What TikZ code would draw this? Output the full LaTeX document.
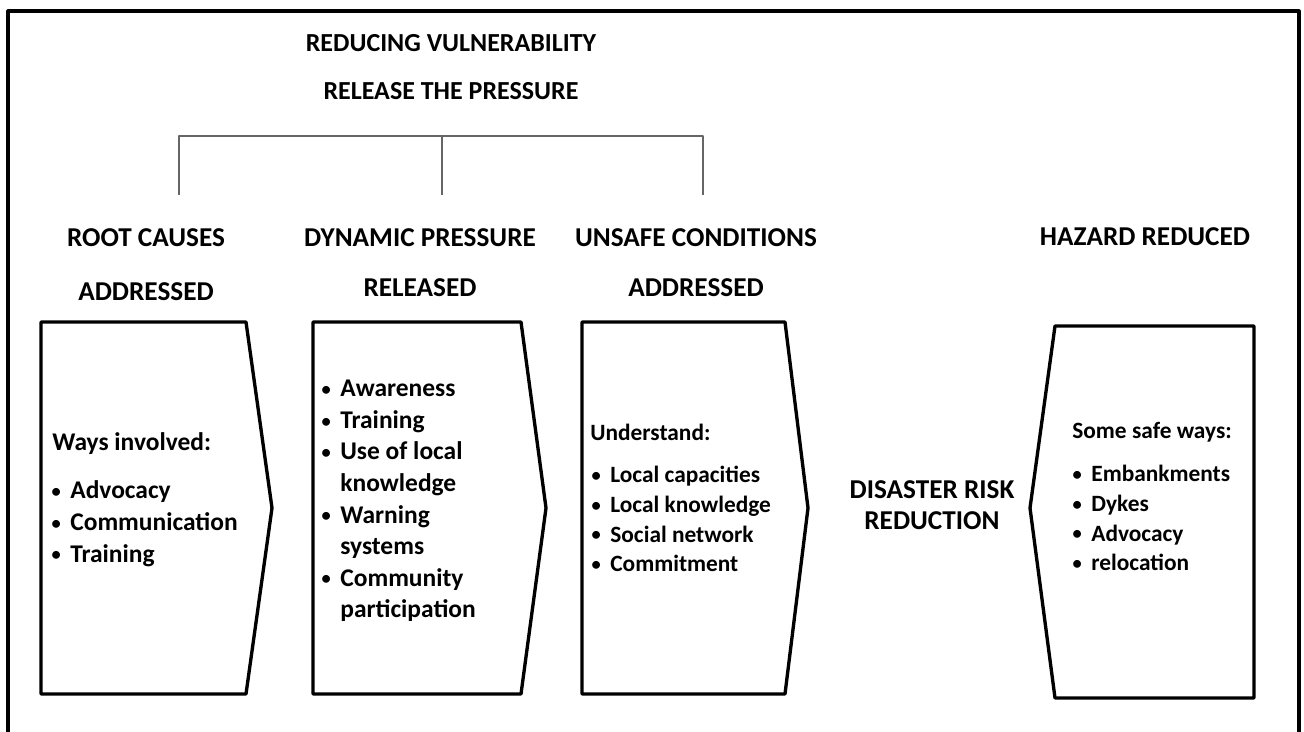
\documentclass[tikz,border=0pt]{standalone}
\usepackage{fontspec}
\setmainfont{Carlito}
\usetikzlibrary{positioning}

\tikzset{
  frameline/.style={line width=1.8pt},
  panel/.style={line width=1.9pt, line join=round},
  bracket/.style={line width=0.9pt, draw=black!60},
  toptitle/.style={anchor=base, inner sep=0pt, font=\fontsize{14.8}{16}\selectfont\bfseries},
  heading/.style={anchor=base, inner sep=0pt, font=\fontsize{15.5}{18}\selectfont\bfseries},
  item/.style={anchor=base west, inner sep=0pt, font=\fontsize{14.5}{17}\selectfont\bfseries},
  smallitem/.style={anchor=base west, inner sep=0pt, font=\fontsize{13.3}{16}\selectfont\bfseries},
}
\newcommand{\bul}{\llap{\raisebox{0.8pt}{\fontsize{10.5}{11}\selectfont\textbullet}\hspace{5.5pt}}}

\begin{document}
\begin{tikzpicture}[x=0.02cm, y=-0.02cm, line join=round]
    \useasboundingbox (0,0) rectangle (1304,732);
    % frame, open at the bottom
    \draw[frameline] (8,732) -- (8,11) -- (1299,11) -- (1299,732);

    \node[toptitle] (vuln) at (451,52) {REDUCING VULNERABILITY};
    \node[toptitle] (press) at (451,100) {RELEASE THE PRESSURE};

    % bracket over the three columns
    \coordinate (brL) at (179,136);
    \coordinate (brM) at (442,136);
    \coordinate (brR) at (703,136);
    \coordinate (brLd) at (179,195);
    \coordinate (brMd) at (442,195);
    \coordinate (brRd) at (703,195);
    \draw[bracket] (brLd) -- (brL) -- (brR) -- (brRd) (brM) -- (brMd);

    \foreach \n/\x/\a/\b/\y in {root/146/ROOT CAUSES/ADDRESSED/301,
                              dyn/420/DYNAMIC PRESSURE/RELEASED/297,
                              unsafe/696/UNSAFE CONDITIONS/ADDRESSED/297} {
      \node[heading] (\n-a) at (\x,247) {\a};
      \node[heading] (\n-b) at (\x,\y) {\b};
    }
    \node[heading] (hazard) at (1145,246) {HAZARD REDUCED};
    \node[heading] (drr-a) at (932,499) {DISASTER RISK};
    \node[heading] (drr-b) at (932,530) {REDUCTION};

    % arrow-shaped panels
    \foreach \n/\l/\r/\t in {root/41/246/272, dyn/313/521/546, unsafe/582/785/808} {
      \draw[panel] (\l,322) -- (\r,322) -- (\t,508) -- (\r,694) -- (\l,694) -- cycle;
    }
    \draw[panel] (1055,326) -- (1254,326) -- (1254,698) -- (1055,698) -- (1030,508) -- cycle;

    % panel contents
    \node[item] (ways) at (52,451) {Ways involved:};
    \foreach \t [count=\i] in {Advocacy, Communication, Training} {
      \node[item] (root\i) at (70,{499+31.5*(\i-1)}) {\bul\t};
    }
    \foreach \b/\t [count=\i] in {1/Awareness, 1/Training, 1/Use of local, 0/knowledge,
                                  1/Warning, 0/systems, 1/Community, 0/participation} {
      \node[item] (dyn\i) at (340,{397+31.5*(\i-1)}) {\ifnum\b=1\bul\fi\t};
    }
    \node[smallitem] (understand) at (590,441) {Understand:};
    \foreach \t [count=\i] in {Local capacities, Local knowledge, Social network, Commitment} {
      \node[smallitem] (unsafe\i) at (610,{483+29.5*(\i-1)}) {\bul\t};
    }
    \node[smallitem] (safe) at (1072,439) {Some safe ways:};
    \foreach \t [count=\i] in {Embankments, Dykes, Advocacy, relocation} {
      \node[smallitem] (hazard\i) at (1091,{482+29.5*(\i-1)}) {\bul\t};
    }
\end{tikzpicture}
\end{document}
